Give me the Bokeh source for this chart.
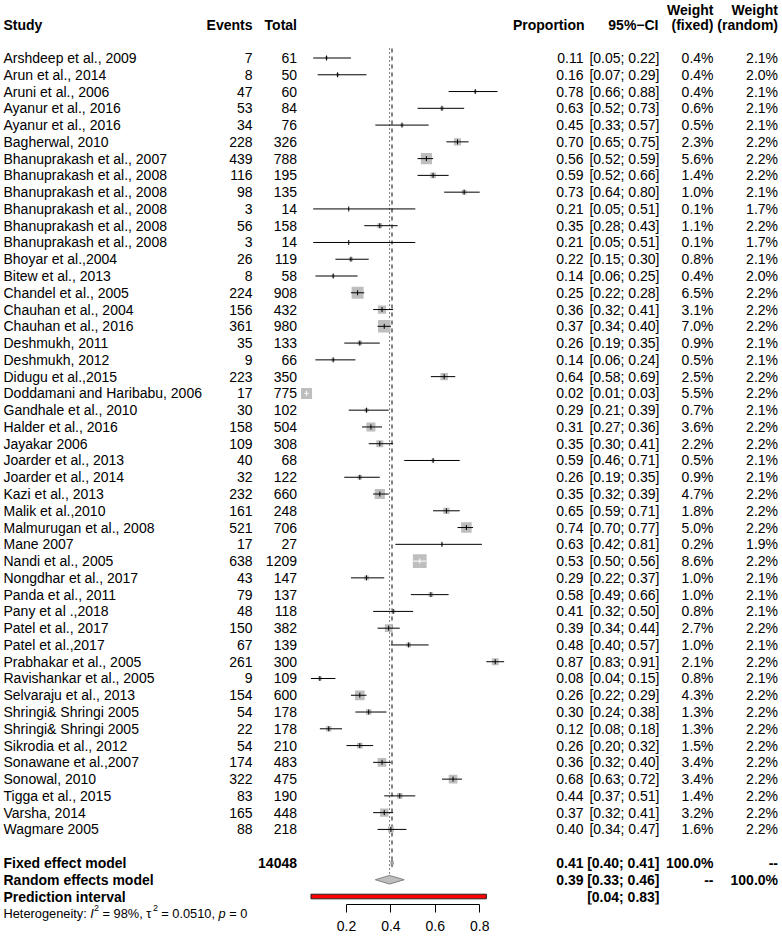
import math
from bokeh.plotting import figure
from bokeh.layouts import row
from bokeh.models import ColumnDataSource, Range1d, LinearAxis, FixedTicker
from bokeh.core.properties import value
from bokeh.embed import file_html
from bokeh.resources import INLINE

# ---------------- data ----------------
studies = [
    "Arshdeep et al., 2009", "Arun et al., 2014", "Aruni et al., 2006", "Ayanur et al., 2016",
    "Ayanur et al., 2016", "Bagherwal, 2010", "Bhanuprakash et al., 2007", "Bhanuprakash et al., 2008",
    "Bhanuprakash et al., 2008", "Bhanuprakash et al., 2008", "Bhanuprakash et al., 2008",
    "Bhanuprakash et al., 2008", "Bhoyar et al.,2004", "Bitew et al., 2013", "Chandel et al., 2005",
    "Chauhan et al., 2004", "Chauhan et al., 2016", "Deshmukh, 2011", "Deshmukh, 2012",
    "Didugu et al.,2015", "Doddamani and Haribabu, 2006", "Gandhale et al., 2010", "Halder et al., 2016",
    "Jayakar 2006", "Joarder et al., 2013", "Joarder et al., 2014", "Kazi et al., 2013",
    "Malik et al.,2010", "Malmurugan et al., 2008", "Mane 2007", "Nandi et al., 2005",
    "Nongdhar et al., 2017", "Panda et al., 2011", "Pany et al .,2018", "Patel et al., 2017",
    "Patel et al.,2017", "Prabhakar et al., 2005", "Ravishankar et al., 2005", "Selvaraju et al., 2013",
    "Shringi& Shringi 2005", "Shringi& Shringi 2005", "Sikrodia et al., 2012", "Sonawane et al.,2007",
    "Sonowal, 2010", "Tigga et al., 2015", "Varsha, 2014", "Wagmare 2005",
]
events = [7, 8, 47, 53, 34, 228, 439, 116, 98, 3, 56, 3, 26, 8, 224, 156, 361, 35, 9, 223, 17, 30,
          158, 109, 40, 32, 232, 161, 521, 17, 638, 43, 79, 48, 150, 67, 261, 9, 154, 54, 22, 54,
          174, 322, 83, 165, 88]
totals = [61, 50, 60, 84, 76, 326, 788, 195, 135, 14, 158, 14, 119, 58, 908, 432, 980, 133, 66,
          350, 775, 102, 504, 308, 68, 122, 660, 248, 706, 27, 1209, 147, 137, 118, 382, 139, 300,
          109, 600, 178, 178, 210, 483, 475, 190, 448, 218]
prop = [0.11, 0.16, 0.78, 0.63, 0.45, 0.70, 0.56, 0.59, 0.73, 0.21, 0.35, 0.21, 0.22, 0.14, 0.25,
        0.36, 0.37, 0.26, 0.14, 0.64, 0.02, 0.29, 0.31, 0.35, 0.59, 0.26, 0.35, 0.65, 0.74, 0.63,
        0.53, 0.29, 0.58, 0.41, 0.39, 0.48, 0.87, 0.08, 0.26, 0.30, 0.12, 0.26, 0.36, 0.68, 0.44,
        0.37, 0.40]
ci_low = [0.05, 0.07, 0.66, 0.52, 0.33, 0.65, 0.52, 0.52, 0.64, 0.05, 0.28, 0.05, 0.15, 0.06, 0.22,
          0.32, 0.34, 0.19, 0.06, 0.58, 0.01, 0.21, 0.27, 0.30, 0.46, 0.19, 0.32, 0.59, 0.70, 0.42,
          0.50, 0.22, 0.49, 0.32, 0.34, 0.40, 0.83, 0.04, 0.22, 0.24, 0.08, 0.20, 0.32, 0.63, 0.37,
          0.32, 0.34]
ci_high = [0.22, 0.29, 0.88, 0.73, 0.57, 0.75, 0.59, 0.66, 0.80, 0.51, 0.43, 0.51, 0.30, 0.25, 0.28,
           0.41, 0.40, 0.35, 0.24, 0.69, 0.03, 0.39, 0.36, 0.41, 0.71, 0.35, 0.39, 0.71, 0.77, 0.81,
           0.56, 0.37, 0.66, 0.50, 0.44, 0.57, 0.91, 0.15, 0.29, 0.38, 0.18, 0.32, 0.40, 0.72, 0.51,
           0.41, 0.47]
w_fixed = [0.4, 0.4, 0.4, 0.6, 0.5, 2.3, 5.6, 1.4, 1.0, 0.1, 1.1, 0.1, 0.8, 0.4, 6.5, 3.1, 7.0, 0.9,
           0.5, 2.5, 5.5, 0.7, 3.6, 2.2, 0.5, 0.9, 4.7, 1.8, 5.0, 0.2, 8.6, 1.0, 1.0, 0.8, 2.7, 1.0,
           2.1, 0.8, 4.3, 1.3, 1.3, 1.5, 3.4, 3.4, 1.4, 3.2, 1.6]
w_random = [2.1, 2.0, 2.1, 2.1, 2.1, 2.2, 2.2, 2.2, 2.1, 1.7, 2.2, 1.7, 2.1, 2.0, 2.2, 2.2, 2.2, 2.1,
            2.1, 2.2, 2.2, 2.1, 2.2, 2.2, 2.1, 2.1, 2.2, 2.2, 2.2, 1.9, 2.2, 2.1, 2.1, 2.1, 2.2, 2.1,
            2.2, 2.1, 2.2, 2.2, 2.2, 2.2, 2.2, 2.2, 2.2, 2.2, 2.2]

fixed_est, fixed_lo, fixed_hi = 0.405, 0.400, 0.411
random_est, random_lo, random_hi = 0.394, 0.33, 0.46
pred_lo, pred_hi = 0.04, 0.83
total_n = 14048
ticks = [0.2, 0.4, 0.6, 0.8]
het_pieces = ["Heterogeneity:", "I", "2", "= 98%,", "\u03c4", "2", "= 0.0510,", "p", "= 0"]

# ---------------- layout ----------------
TOTAL_H = 935
LEFT_W, RIGHT_W = 300, 482
AX_Y = 904                 # axis line (bottom of forest frame)
PX = 222.0                 # pixels per proportion unit
X0 = 301.6                 # page x of proportion 0
ROW0, DY = 57.5, 16.77
HDR_Y, HDR1_Y = 24.5, 9.0
FONT = "Liberation Sans"
FS = "14px"


def dx(px):
    return (px - X0) / PX


n = len(studies)
ys = [ROW0 + i * DY for i in range(n)]
fixed_y = ROW0 + (n + 1) * DY
random_y = ROW0 + (n + 2) * DY
pred_y = ROW0 + (n + 3) * DY
het_y = ROW0 + (n + 4) * DY

common = dict(toolbar_location=None, output_backend="svg", x_axis_type=None, y_axis_type=None,
              min_border=0, min_border_left=0, min_border_right=0, min_border_top=0,
              min_border_bottom=0)

left = figure(frame_width=LEFT_W, frame_height=TOTAL_H, x_range=Range1d(0, LEFT_W),
              y_range=Range1d(TOTAL_H, 0), **common)
right = figure(frame_width=RIGHT_W, frame_height=AX_Y, x_range=Range1d(dx(LEFT_W), dx(LEFT_W + RIGHT_W)),
               y_range=Range1d(AX_Y, 0), **common)
for f in (left, right):
    f.outline_line_color = None
    f.xgrid.visible = False
    f.ygrid.visible = False
    f.background_fill_color = "white"
    f.border_fill_color = "white"

axis = LinearAxis(ticker=FixedTicker(ticks=ticks), bounds=(0.2, 0.8))
axis.axis_line_color = "black"
axis.major_tick_line_color = "black"
axis.major_tick_out = 8
axis.major_tick_in = 0
axis.minor_tick_out = 0
axis.minor_tick_in = 0
axis.major_label_text_font = FONT
axis.major_label_text_font_size = FS
axis.major_label_text_color = "black"
axis.major_label_standoff = 8
right.add_layout(axis, "below")

# reference lines
top_line = 48
right.segment(x0=[fixed_est], y0=[top_line], x1=[fixed_est], y1=[fixed_y - 4],
              line_color="black", line_width=1, line_dash="4 4")
right.segment(x0=[random_est], y0=[top_line], x1=[random_est], y1=[random_y - 4],
              line_color="black", line_width=1, line_dash="1 3")

# study boxes + CI
sizes = [4.7 * math.sqrt(w) for w in w_fixed]
line_cols = []
for est, lo, hi, s in zip(prop, ci_low, ci_high, sizes):
    inside = (est - lo) * PX <= s / 2 and (hi - est) * PX <= s / 2
    line_cols.append("white" if inside else "black")

src = ColumnDataSource(dict(y=ys, est=prop, lo=ci_low, hi=ci_high, size=sizes, lc=line_cols,
                            yt=[y - 2.5 for y in ys], yb=[y + 2.5 for y in ys]))
right.scatter(x="est", y="y", size="size", marker="square", fill_color="#bebebe",
              line_color=None, source=src)
right.segment(x0="lo", y0="y", x1="hi", y1="y", line_color="lc", line_width=1, source=src)
right.segment(x0="est", y0="yt", x1="est", y1="yb", line_color="lc", line_width=1, source=src)

# diamonds
h = 4.3
right.patches(xs=[[fixed_lo, fixed_est, fixed_hi, fixed_est], [random_lo, random_est, random_hi, random_est]],
              ys=[[fixed_y, fixed_y - h, fixed_y, fixed_y + h], [random_y, random_y - h, random_y, random_y + h]],
              fill_color="#bebebe", line_color="#808080", line_width=1)

# prediction interval
right.quad(left=[pred_lo], right=[pred_hi], top=[pred_y - 2.3], bottom=[pred_y + 2.3],
           fill_color="red", line_color="#202020", line_width=1)


def col_text(f, xdata, yvals, texts, align, style="normal", size=FS):
    s = ColumnDataSource(dict(x=[xdata] * len(texts), y=list(yvals), t=list(texts)))
    f.text(x="x", y="y", text="t", source=s, text_font=value(FONT), text_font_size=value(size),
           text_font_style=style, text_align=align, text_baseline="middle", text_color="black")


# columns x positions (page px)
X_STUDY, X_EV, X_TOT = 3, 252, 296.5
X_PROP, X_CI, X_WF, X_WR = 583, 659, 713, 777.5

# headers
col_text(left, X_STUDY, [HDR_Y], ["Study"], "left", "bold")
col_text(left, X_EV, [HDR_Y], ["Events"], "right", "bold")
col_text(left, X_TOT, [HDR_Y], ["Total"], "right", "bold")
col_text(right, dx(X_PROP + 1), [HDR_Y], ["Proportion"], "right", "bold")
col_text(right, dx(X_CI - 1), [HDR_Y], ["95%\u2212CI"], "right", "bold")
col_text(right, dx(X_WF), [HDR1_Y, HDR_Y], ["Weight", "(fixed)"], "right", "bold")
col_text(right, dx(X_WR), [HDR1_Y, HDR_Y], ["Weight", "(random)"], "right", "bold")

# study rows
col_text(left, X_STUDY, ys, studies, "left")
col_text(left, X_EV, ys, [str(e) for e in events], "right")
col_text(left, X_TOT, ys, [str(t) for t in totals], "right")
col_text(right, dx(X_PROP), ys, ["%.2f" % v for v in prop], "right")
col_text(right, dx(X_CI), ys, ["[%.2f; %.2f]" % (a, b) for a, b in zip(ci_low, ci_high)], "right")
col_text(right, dx(X_WF), ys, ["%.1f%%" % w for w in w_fixed], "right")
col_text(right, dx(X_WR), ys, ["%.1f%%" % w for w in w_random], "right")

# summary rows
col_text(left, X_STUDY, [fixed_y, random_y, pred_y],
         ["Fixed effect model", "Random effects model", "Prediction interval"], "left", "bold")
col_text(left, X_TOT, [fixed_y], [str(total_n)], "right", "bold")
col_text(right, dx(X_PROP), [fixed_y, random_y], ["%.2f" % fixed_est, "%.2f" % random_est], "right", "bold")
col_text(right, dx(X_CI), [fixed_y, random_y, pred_y],
         ["[%.2f; %.2f]" % (fixed_lo, fixed_hi), "[%.2f; %.2f]" % (random_lo, random_hi),
          "[%.2f; %.2f]" % (pred_lo, pred_hi)], "right", "bold")
col_text(right, dx(X_WF), [fixed_y, random_y], ["100.0%", "--"], "right", "bold")
col_text(right, dx(X_WR), [fixed_y, random_y], ["--", "100.0%"], "right", "bold")

# heterogeneity line (pieces)
het_x = [3, 89.8, 93.6, 102, 145.8, 152.4, 160.8, 218.1, 228.8]
het_style = ["normal", "italic", "normal", "normal", "normal", "normal", "normal", "italic", "normal"]
het_size = ["12.8px", "12.8px", "9px", "12.8px", "12.8px", "9px", "12.8px", "12.8px", "12.8px"]
het_dy = [0, 0, -5, 0, 0, -5, 0, 0, 0]
for t, xp, st, sz, d in zip(het_pieces, het_x, het_style, het_size, het_dy):
    col_text(left, xp, [het_y + d], [t], "left", st, sz)

layout = row(left, right, spacing=0)
open("out.html", "w").write(file_html(layout, INLINE))
